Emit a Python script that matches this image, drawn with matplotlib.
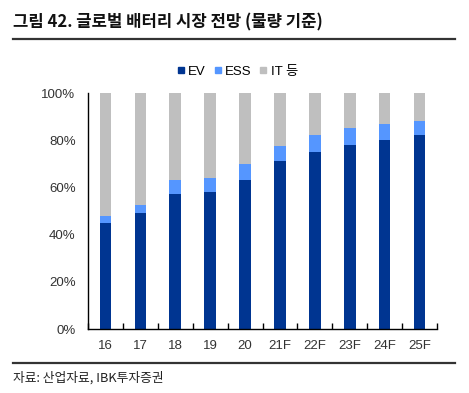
import matplotlib
matplotlib.use("Agg")
import matplotlib.pyplot as plt
from matplotlib.lines import Line2D
import numpy as np

plt.rcParams['font.family'] = ['Liberation Sans', 'Noto Sans CJK KR', 'DejaVu Sans']

categories = ["16", "17", "18", "19", "20", "21F", "22F", "23F", "24F", "25F"]
ev = [45, 49, 57, 58, 63, 71, 75, 78, 80, 82]
ess = [3, 3.5, 6, 6, 7, 6.5, 7, 7, 7, 6]
it = [100 - a - b for a, b in zip(ev, ess)]

c_ev = "#003591"
c_ess = "#5596ff"
c_it = "#bfbfbf"

fig = plt.figure(figsize=(4.69, 3.93), dpi=100)
ax = fig.add_axes([88/469, 1-329/393, (437-88)/469, (329-93)/393])

x = np.arange(len(categories))
w = 0.33
ax.bar(x, ev, w, color=c_ev, label="EV")
ax.bar(x, ess, w, bottom=ev, color=c_ess, label="ESS")
ax.bar(x, it, w, bottom=[a + b for a, b in zip(ev, ess)], color=c_it, label="IT 등")

ax.set_xlim(-0.5, len(categories) - 0.5)
ax.set_ylim(0, 100)
ax.set_yticks(np.arange(0, 101, 20))
ax.set_yticklabels([f"{v}%" for v in range(0, 101, 20)])
ax.tick_params(axis='y', length=0, pad=9, labelsize=9.5, labelcolor="#333333")
ax.set_yticks([100], minor=True)
ax.tick_params(axis='y', which='minor', direction='in', length=4, width=1, color='black')

ax.set_xticks(x)
ax.set_xticklabels(categories)
ax.tick_params(axis='x', which='major', length=0, pad=8, labelsize=9.5, labelcolor="#333333")
ax.set_xticks(np.arange(-0.5, len(categories), 1.0), minor=True)
ax.tick_params(axis='x', which='minor', direction='in', length=4, width=1, color='black')

for s in ['top', 'right']:
    ax.spines[s].set_visible(False)
for s in ['left', 'bottom']:
    ax.spines[s].set_linewidth(1.0)
    ax.spines[s].set_color('black')

# legend
handles = [Line2D([], [], marker='s', linestyle='none', markersize=5, color=c) for c in (c_ev, c_ess, c_it)]
fig.legend(handles, ["EV", "ESS", "IT 등"], loc='center', bbox_to_anchor=(236/469, 1-72/393),
           ncol=3, frameon=False, fontsize=9.5, handletextpad=0.05, columnspacing=0.4, handlelength=1.0)

# title
fig.text(13/469, 1-22/393, "그림 42. 글로벌 배터리 시장 전망 (물량 기준)", fontsize=12,
         fontweight='bold', family=['Noto Sans CJK KR'], ha='left', va='center', color='#111111')
fig.add_artist(Line2D([13/469, 455/469], [1-38.5/393, 1-38.5/393], color='#333333', linewidth=1.6))
fig.add_artist(Line2D([13/469, 455/469], [1-362.5/393, 1-362.5/393], color='#333333', linewidth=1.6))
fig.text(13/469, 1-378/393, "자료: 산업자료, IBK투자증권", fontsize=9.2,
         family=['Noto Sans CJK KR'], ha='left', va='center', color='#222222')

fig.savefig("out.png", dpi=100)
